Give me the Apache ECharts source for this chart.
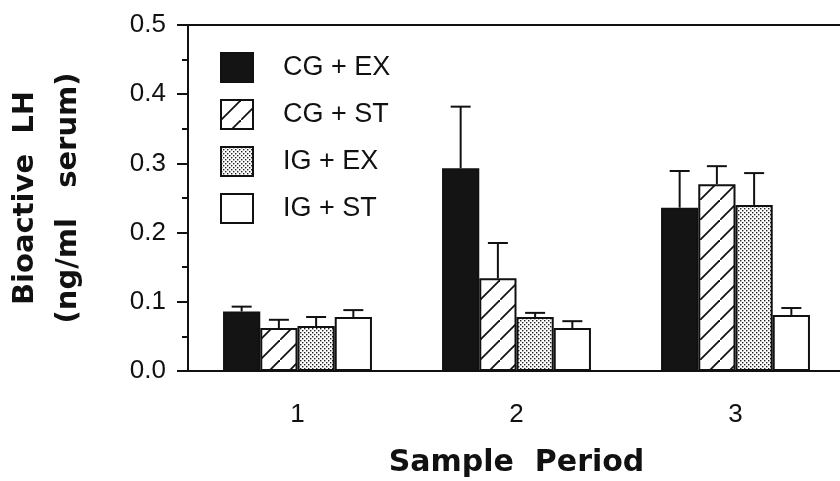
<!DOCTYPE html>
<html>
<head>
<meta charset="utf-8">
<style>
  html, body { margin: 0; padding: 0; background: #fff; }
  #chart { width: 840px; height: 481px; }
</style>
<script src="https://cdn.jsdelivr.net/npm/echarts@6/dist/echarts.min.js"></script>
</head>
<body>
<div id="chart"></div>
<script>
var periods = ['1', '2', '3']
var groups = ['CG + EX', 'CG + ST', 'IG + EX', 'IG + ST']
// bar heights (ng/ml serum)
var cgEx = [0.086, 0.293, 0.236]
var cgSt = [0.062, 0.134, 0.270]
var igEx = [0.065, 0.078, 0.240]
var igSt = [0.078, 0.062, 0.081]
// upper end of each error bar
var cgExTop = [0.093, 0.382, 0.289]
var cgStTop = [0.074, 0.185, 0.296]
var igExTop = [0.078, 0.084, 0.286]
var igStTop = [0.088, 0.072, 0.091]
var yTicks = [0, 0.1, 0.2, 0.3, 0.4, 0.5]

var ink = '#111'
var catGap = 0.32

function hatchPattern() {
  var c = document.createElement('canvas')
  c.width = 20
  c.height = 20
  var ctx = c.getContext('2d')
  ctx.fillStyle = '#fff'
  ctx.fillRect(0, 0, 20, 20)
  ctx.strokeStyle = ink
  ctx.lineWidth = 1.8
  ctx.beginPath()
  ctx.moveTo(-2, 22)
  ctx.lineTo(22, -2)
  ctx.stroke()
  return c
}

function dotPattern() {
  var c = document.createElement('canvas')
  c.width = 4
  c.height = 4
  var ctx = c.getContext('2d')
  ctx.fillStyle = '#fff'
  ctx.fillRect(0, 0, 4, 4)
  ctx.fillStyle = '#222'
  ctx.fillRect(0, 0, 1.4, 1.4)
  ctx.fillRect(2, 2, 1.4, 1.4)
  return c
}

var fills = [
  '#141414',
  { image: hatchPattern(), repeat: 'repeat' },
  { image: dotPattern(), repeat: 'repeat' },
  '#ffffff'
]
var values = [cgEx, cgSt, igEx, igSt]
var tops = [cgExTop, cgStTop, igExTop, igStTop]

function barSeries(i) {
  return {
    name: groups[i],
    type: 'bar',
    data: values[i],
    barGap: 0,
    barCategoryGap: (catGap * 100) + '%',
    itemStyle: {
      color: fills[i],
      borderColor: ink,
      borderWidth: 2
    },
    z: 2
  }
}

function errorSeries(i) {
  var data = []
  for (var k = 0; k < periods.length; k++) {
    data.push([k, values[i][k], tops[i][k]])
  }
  return {
    type: 'custom',
    data: data,
    encode: { x: 0, y: 2 },
    z: 3,
    renderItem: function(params, api) {
      var band = api.size([1, 0])[0]
      var bw = band * (1 - catGap) / 4
      var base = api.coord([api.value(0), api.value(1)])
      var top = api.coord([api.value(0), api.value(2)])
      var x = base[0] + (i - 1.5) * bw
      var st = { stroke: ink, lineWidth: 2 }
      return {
        type: 'group',
        children: [
          { type: 'line', shape: { x1: x, y1: base[1], x2: x, y2: top[1] }, style: st },
          { type: 'line', shape: { x1: x - 10, y1: top[1], x2: x + 10, y2: top[1] }, style: st }
        ]
      }
    }
  }
}

var series = []
for (var i = 0; i < groups.length; i++) series.push(barSeries(i))
for (var j = 0; j < groups.length; j++) series.push(errorSeries(j))

var chart = echarts.init(document.getElementById('chart'))
chart.setOption({
  backgroundColor: '#fff',
  animation: false,
  grid: { left: 188, right: -5, top: 25, bottom: 110, containLabel: false, outerBoundsMode: 'none' },
  legend: {
    data: groups,
    orient: 'vertical',
    left: 220,
    top: 52,
    padding: 0,
    itemWidth: 32,
    itemHeight: 29,
    itemGap: 16,
    icon: 'rect',
    textStyle: {
      fontFamily: 'Liberation Sans, Arial, sans-serif',
      fontSize: 27,
      color: ink,
      padding: [0, 0, 0, 25]
    }
  },
  xAxis: [{
    type: 'category',
    data: periods,
    name: 'Sample  Period',
    nameLocation: 'middle',
    nameGap: 77,
    nameTextStyle: {
      fontFamily: 'DejaVu Sans, sans-serif',
      fontWeight: 'bold',
      fontSize: 30,
      color: ink
    },
    axisLine: { lineStyle: { color: ink, width: 2 } },
    axisTick: { length: 9, lineStyle: { color: ink, width: 2 } },
    axisLabel: {
      margin: 31,
      fontFamily: 'Liberation Sans, Arial, sans-serif',
      fontSize: 26,
      color: ink
    }
  }, {
    type: 'category',
    position: 'top',
    data: periods,
    axisLine: { lineStyle: { color: ink, width: 2 } },
    axisTick: { show: false },
    axisLabel: { show: false }
  }],
  yAxis: {
    type: 'value',
    min: 0,
    max: 0.5,
    interval: 0.1,
    name: 'Bioactive  LH\n(ng/ml   serum)',
    nameLocation: 'middle',
    nameRotate: 90,
    nameGap: 98,
    nameTextStyle: {
      fontFamily: 'DejaVu Sans, sans-serif',
      fontWeight: 'bold',
      fontSize: 29,
      lineHeight: 43,
      color: ink
    },
    splitLine: { show: false },
    axisLine: { show: true, lineStyle: { color: ink, width: 2 } },
    axisTick: { show: true, length: 11, lineStyle: { color: ink, width: 2 } },
    minorTick: { show: true, splitNumber: 2, length: 6, lineStyle: { color: ink, width: 2 } },
    axisLabel: {
      margin: 22,
      fontFamily: 'Liberation Sans, Arial, sans-serif',
      fontSize: 26,
      color: ink,
      formatter: function(v) {
        return yTicks.indexOf(Math.round(v * 10) / 10) >= 0 ? v.toFixed(1) : ''
      }
    }
  },
  series: series
})
</script>
</body>
</html>
